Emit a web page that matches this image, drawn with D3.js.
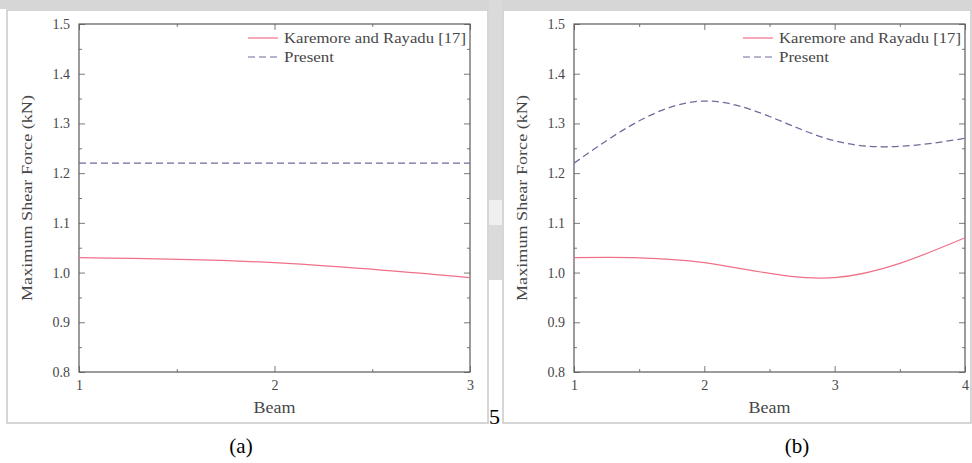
<!DOCTYPE html>
<html>
<head>
<meta charset="utf-8">
<script src="https://cdn.jsdelivr.net/npm/d3@7"></script>
<style>
  body { margin: 0; background: #fff; }
  svg { display: block; }
  text { font-family: "Liberation Serif", serif; }
</style>
</head>
<body>
<svg id="fig" width="972" height="463"></svg>
<script>
const seriesNames = ["Karemore and Rayadu [17]", "Present"];
const beamsA = [1, 2, 3];
const karemoreA = [1.03, 1.02, 0.99];
const presentA = [1.22, 1.22, 1.22];
const beamsB = [1, 2, 3, 4];
const karemoreB = [1.03, 1.02, 0.99, 1.07];
const presentB = [1.22, 1.345, 1.265, 1.27];
const yTicks = [0.8, 0.9, 1.0, 1.1, 1.2, 1.3, 1.4, 1.5];
const panelLabels = ["(a)", "(b)"];

const RED = "#f07088";
const BLUE = "#6c6c9c";
const INK = "#474747";

const svg = d3.select("#fig");

// scanned page background bits (grey strip on top + gap column)
svg.append("rect").attr("x", 0).attr("y", 0).attr("width", 972).attr("height", 9).attr("fill", "#d6d6d6");
svg.append("rect").attr("x", 489).attr("y", 0).attr("width", 13).attr("height", 280).attr("fill", "#dadada");
svg.append("rect").attr("x", 489).attr("y", 200).attr("width", 13).attr("height", 25).attr("fill", "#efefef");

function drawPanel(opt) {
  const g = svg.append("g");
  const f = opt.frame, p = opt.plot;

  g.append("rect")
    .attr("x", f.x).attr("y", f.y).attr("width", f.w).attr("height", f.h)
    .attr("fill", "#fff").attr("stroke", "#c9c9c9").attr("stroke-width", 1.5);

  const x = d3.scaleLinear().domain(d3.extent(opt.beams)).range([p.left, p.right]);
  const y = d3.scaleLinear().domain([0.8, 1.5]).range([p.bottom, p.top]);

  const xMinor = d3.range(opt.beams[0] + 0.5, opt.beams[opt.beams.length - 1], 1);
  const yMinor = d3.range(0.85, 1.5, 0.1);

  function ticks(axis, pos, vals, size, fmt, pad) {
    const a = g.append("g")
      .attr("transform", pos)
      .call(axis.tickValues(vals).tickSizeInner(-size).tickSizeOuter(0).tickPadding(pad || 0).tickFormat(fmt));
    a.select(".domain").remove();
    a.selectAll("line").attr("stroke", "#7a7a7a");
    a.selectAll("text").attr("font-family", "Liberation Serif, serif").attr("font-size", 14).attr("fill", INK);
    return a;
  }
  const none = () => "";

  ticks(d3.axisBottom(x), `translate(0,${p.bottom})`, opt.beams, 6, d3.format("d"), 8);
  ticks(d3.axisBottom(x), `translate(0,${p.bottom})`, xMinor, 3, none);
  ticks(d3.axisTop(x), `translate(0,${p.top})`, opt.beams, 6, none);
  ticks(d3.axisTop(x), `translate(0,${p.top})`, xMinor, 3, none);
  ticks(d3.axisLeft(y), `translate(${p.left},0)`, yTicks, 6, d3.format(".1f"), 9);
  ticks(d3.axisLeft(y), `translate(${p.left},0)`, yMinor, 3, none);
  ticks(d3.axisRight(y), `translate(${p.right},0)`, yTicks, 6, none);
  ticks(d3.axisRight(y), `translate(${p.right},0)`, yMinor, 3, none);

  g.append("rect")
    .attr("x", p.left).attr("y", p.top)
    .attr("width", p.right - p.left).attr("height", p.bottom - p.top)
    .attr("fill", "none").attr("stroke", "#5a5a5a").attr("stroke-width", 1.2);

  const line = d3.line().curve(d3.curveNatural)
    .x((d, i) => x(opt.beams[i])).y(d => y(d));

  g.append("path").datum(opt.karemore).attr("d", line)
    .attr("fill", "none").attr("stroke", RED).attr("stroke-width", 1.2);
  g.append("path").datum(opt.present).attr("d", line)
    .attr("fill", "none").attr("stroke", BLUE).attr("stroke-width", 1.3)
    .attr("stroke-dasharray", "7,4");

  // legend
  const styles = [{ c: RED, dash: null, w: 182 }, { c: BLUE, dash: "7,4", w: 50 }];
  seriesNames.forEach((name, i) => {
    const ly = p.top + 14 + i * 19;
    g.append("line")
      .attr("x1", p.right - 222).attr("x2", p.right - 192)
      .attr("y1", ly).attr("y2", ly)
      .attr("stroke", styles[i].c).attr("stroke-width", 1.2)
      .attr("stroke-dasharray", styles[i].dash);
    g.append("text")
      .attr("x", p.right - 186).attr("y", ly + 4.5)
      .attr("font-size", 14).attr("fill", INK)
      .attr("textLength", styles[i].w).attr("lengthAdjust", "spacingAndGlyphs")
      .text(name);
  });

  g.append("text")
    .attr("x", (p.left + p.right) / 2).attr("y", 413)
    .attr("text-anchor", "middle").attr("font-size", 16).attr("fill", INK)
    .attr("textLength", 42).attr("lengthAdjust", "spacingAndGlyphs")
    .text("Beam");

  g.append("text")
    .attr("transform", `translate(${p.left - 47},${(p.top + p.bottom) / 2}) rotate(-90)`)
    .attr("text-anchor", "middle").attr("font-size", 15).attr("fill", INK)
    .attr("textLength", 206).attr("lengthAdjust", "spacingAndGlyphs")
    .text("Maximum Shear Force (kN)");

  svg.append("text")
    .attr("x", opt.labelX).attr("y", 453)
    .attr("text-anchor", "middle")
    .attr("font-size", 21).attr("fill", "#000")
    .text(opt.label);
}

drawPanel({
  frame: { x: 7, y: 10, w: 481, h: 413 },
  plot: { left: 79, right: 470, top: 24, bottom: 372 },
  beams: beamsA, karemore: karemoreA, present: presentA,
  label: panelLabels[0], labelX: 241
});

drawPanel({
  frame: { x: 503, y: 10, w: 468, h: 413 },
  plot: { left: 574, right: 965, top: 24, bottom: 372 },
  beams: beamsB, karemore: karemoreB, present: presentB,
  label: panelLabels[1], labelX: 797
});

// page number from the scan
svg.append("text")
  .attr("x", 489).attr("y", 424)
  .attr("font-size", 22).attr("fill", "#000")
  .text("5");
</script>
</body>
</html>
